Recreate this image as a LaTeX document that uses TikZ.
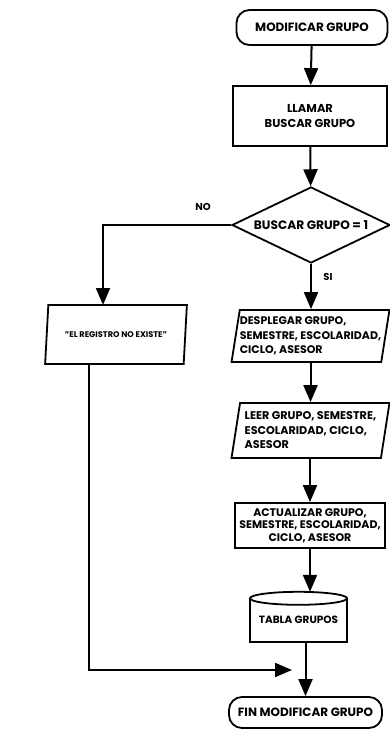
\documentclass[tikz,border=0pt]{standalone}
\usepackage{fontspec}
\setmainfont{Poppins}
\usetikzlibrary{arrows.meta,shapes.geometric}
\newcommand{\fs}[2]{\fontsize{#1}{#2}\selectfont\bfseries}
\tikzset{
  base/.style={draw, line width=1.8pt, inner sep=2pt, font=\fs{11.5}{13}},
  term/.style={base, rounded corners=13pt},
  proc/.style={base, rectangle, align=center},
  dec/.style={base, diamond, inner sep=0pt, aspect=2.08},
  io/.style={base, trapezium, trapezium stretches=true, align=left},
  flow/.style={line width=2pt, -{Triangle[width=14pt,length=17pt]}},
  lbl/.style={font=\fs{10}{11}}
}
\begin{document}
\begin{tikzpicture}[x=1pt,y=1pt]
\useasboundingbox (0,0) rectangle (390,-734);
\node[term, minimum width=151, minimum height=35, font=\fs{12}{13}] (start) at (312,-27.5) {MODIFICAR GRUPO};
\node[proc, minimum width=154, minimum height=60, font=\fs{11.5}{14.5}] (llamar) at (310,-116) {LLAMAR\\BUSCAR GRUPO};
\node[dec, minimum width=158, minimum height=76, font=\fs{12.2}{13}] (dec) at (311,-225) {BUSCAR GRUPO = 1};
\node[io, trapezium left angle=75.7, trapezium right angle=104.3, minimum width=142, minimum height=59, font=\fs{8.2}{10}] (reg) at (116,-334.5) {"EL REGISTRO NO EXISTE"};
\node[io, trapezium left angle=79, trapezium right angle=101, minimum width=158, minimum height=52, inner xsep=0pt, font=\fs{11}{14.5}] (desp) at (310.5,-336) {DESPLEGAR GRUPO,\\SEMESTRE, ESCOLARIDAD,\\CICLO, ASESOR};
\node[io, trapezium left angle=79, trapezium right angle=101, minimum width=158, minimum height=55, inner xsep=0pt, font=\fs{11.2}{14.5}] (leer) at (310.5,-430.5) {LEER GRUPO, SEMESTRE,\\ESCOLARIDAD, CICLO,\\ASESOR};
\node[proc, minimum width=150, minimum height=45, inner xsep=0pt, inner ysep=1pt, font=\fs{11}{12.5}] (act) at (310,-525.5) {ACTUALIZAR GRUPO,\\SEMESTRE, ESCOLARIDAD,\\CICLO, ASESOR};
\node[minimum width=97, minimum height=43.5, inner sep=0pt, font=\fs{10.5}{11}] (tabla) at (298.5,-620.25) {TABLA GRUPOS};
\draw[line width=1.8pt] (tabla.north west) -- (tabla.south west) -- (tabla.south east) -- (tabla.north east);
\draw[line width=1.8pt] (tabla.north) ellipse [x radius=48.5, y radius=6.5];
\node[term, minimum width=153, minimum height=31, font=\fs{12}{13}] (end) at (305.5,-712.5) {FIN MODIFICAR GRUPO};
\node[lbl] (no) at (203,-207) {NO};
\node[lbl] (si) at (328,-277) {SI};
\coordinate (cyltop) at ([yshift=6.5pt]tabla.north);
\coordinate (j) at (292,-670);
\draw[flow] (start) -- (llamar);
\draw[flow] (llamar) -- (dec);
\draw[flow] (dec.south) -- (dec.south |- desp.north);
\draw[flow] (desp.south -| leer.north) -- (leer.north);
\draw[flow] (leer.south -| act.north) -- (act.north);
\draw[flow] (act.south) -- (act.south |- cyltop);
\draw[flow] (end.north |- tabla.south) -- (end.north);
\draw[flow] (dec.west) -| (103,-305);
\draw[flow] (89,-364) |- (j);
\end{tikzpicture}
\end{document}
